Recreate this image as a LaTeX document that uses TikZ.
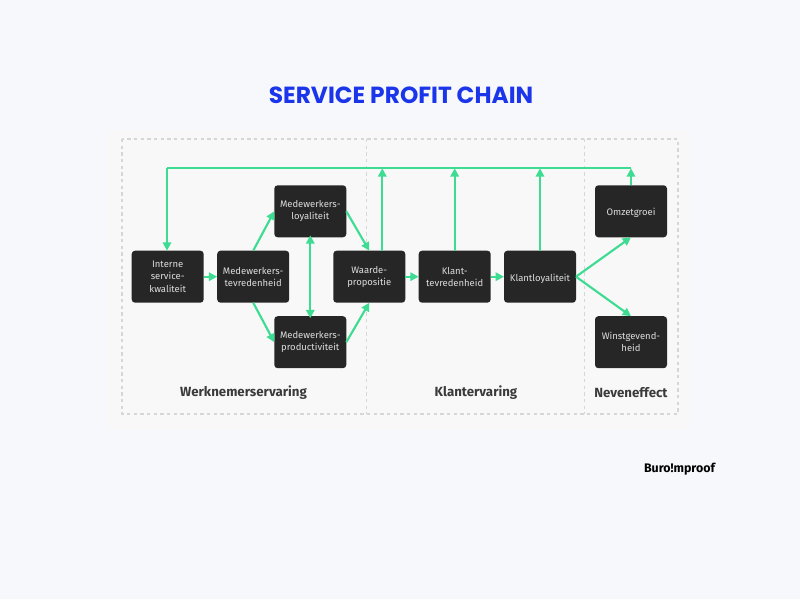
\documentclass[tikz,border=0pt]{standalone}
\usepackage{fontspec}
\setmainfont{Fira Sans}
\newfontfamily\titlefont{Poppins}
\usetikzlibrary{arrows.meta}

\definecolor{pagebg}{HTML}{F7F8FC}
\definecolor{panelbg}{HTML}{F8F8F8}
\definecolor{framegray}{HTML}{D6D6D6}
\definecolor{boxdark}{HTML}{262626}
\definecolor{boxtext}{HTML}{DDDDDD}
\definecolor{chaingreen}{HTML}{3EDC92}
\definecolor{titleblue}{HTML}{1A35EA}
\definecolor{labeldark}{HTML}{3A3A3A}

\tikzset{
  every picture/.style={line width=0.75pt},
  chainbox/.style={fill=boxdark,rounded corners=2.5pt,minimum width=54pt,minimum height=39pt,inner sep=0pt,outer sep=0pt,align=center,text=boxtext,font=\fontsize{7.1}{9.2}\selectfont,execute at begin node={\rule{0pt}{8.3pt}}},
  chainarrow/.style={draw=chaingreen,line width=1.6pt,-{Triangle[length=6.2pt,width=6.2pt]}},
  chainline/.style={draw=chaingreen,line width=1.6pt},
  framedash/.style={draw=framegray,line width=0.9pt,dash pattern=on 2.5pt off 2.5pt},
  grouplabel/.style={text=labeldark,font=\fontsize{9.95}{12}\selectfont\bfseries}
}

\begin{document}
\begin{tikzpicture}[x=0.75pt,y=0.75pt,yscale=-1]
%Shape: page and panel
\fill [pagebg] (0,0) rectangle (800,599);
\fill [panelbg] (108,130) rectangle (690,430);
\useasboundingbox (0,0) rectangle (800,599);

%Shape: dashed frames
\draw [framedash] (122,139) rectangle (678,414);
\draw [framedash] (366.7,139) -- (366.7,414);
\draw [framedash] (584.3,139) -- (584.3,414);

% Text Node
\node (title) at (401,95.5) [text=titleblue,font=\titlefont\fontsize{17.5}{20}\selectfont\bfseries] {SERVICE PROFIT CHAIN};

% Boxes
\node (interne) at (167.7,276.7) [chainbox] {Interne\\service-\\kwaliteit};
\node (tevreden) at (253.2,276.7) [chainbox] {Medewerkers-\\tevredenheid};
\node (loyaal) at (310.3,211.3) [chainbox] {Medewerkers-\\loyaliteit};
\node (productief) at (310.3,342.2) [chainbox] {Medewerkers-\\productiviteit};
\node (waarde) at (369.3,276.7) [chainbox] {Waarde-\\propositie};
\node (klant) at (454.7,276.7) [chainbox] {Klant-\\tevredenheid};
\node (klantloyaal) at (540,276.7) [chainbox] {Klantloyaliteit};
\node (omzet) at (631,211.3) [chainbox] {Omzetgroei};
\node (winst) at (631,342.2) [chainbox] {Winstgevend-\\heid};

% Feedback line
\coordinate (topleft) at (167,168.3);
\coordinate (topright) at (631,168.3);
\coordinate (topwaarde) at (382.3,168.3);
\coordinate (topklant) at (454.7,168.3);
\coordinate (topklantloyaal) at (540,168.3);
\coordinate (waardeout) at (382.3,250.7);
\draw [chainline] (topright) -- (topleft);
\draw [chainarrow] (topleft) -- (topleft |- interne.north);
\draw [chainarrow] (omzet.north) -- (topright);
\draw [chainarrow] (klantloyaal.north) -- (topklantloyaal);
\draw [chainarrow] (klant.north) -- (topklant);
\draw [chainarrow] (waardeout) -- (topwaarde);

%Straight Lines
\draw [chainarrow] (interne.east) -- (tevreden.west);
\draw [chainarrow] (tevreden.north) -- (loyaal.west);
\draw [chainarrow] (tevreden.south) -- (productief.west);
\draw [chainarrow,{Triangle[length=6.2pt,width=6.2pt]}-{Triangle[length=6.2pt,width=6.2pt]}] ([yshift=-1.5pt]loyaal.south) -- ([yshift=1.5pt]productief.north);
\draw [chainarrow] (loyaal.east) -- (waarde.north);
\draw [chainarrow] (productief.east) -- (waarde.south);
\draw [chainarrow] (waarde.east) -- (klant.west);
\draw [chainarrow] (klant.east) -- (klantloyaal.west);
\draw [chainarrow] (klantloyaal.east) -- (omzet.south);
\draw [chainarrow] (klantloyaal.east) -- (winst.north);

% Text Node
\node (werknemer) at (243.5,393) [grouplabel] {Werknemerservaring};
\node (klantervaring) at (476,393) [grouplabel] {Klantervaring};
\node (neven) at (631,393) [grouplabel] {Neveneffect};
\node (logo) at (679.5,469) [text=black,font=\fontsize{9.3}{10}\selectfont\bfseries] {Buro!mproof};
\end{tikzpicture}
\end{document}
